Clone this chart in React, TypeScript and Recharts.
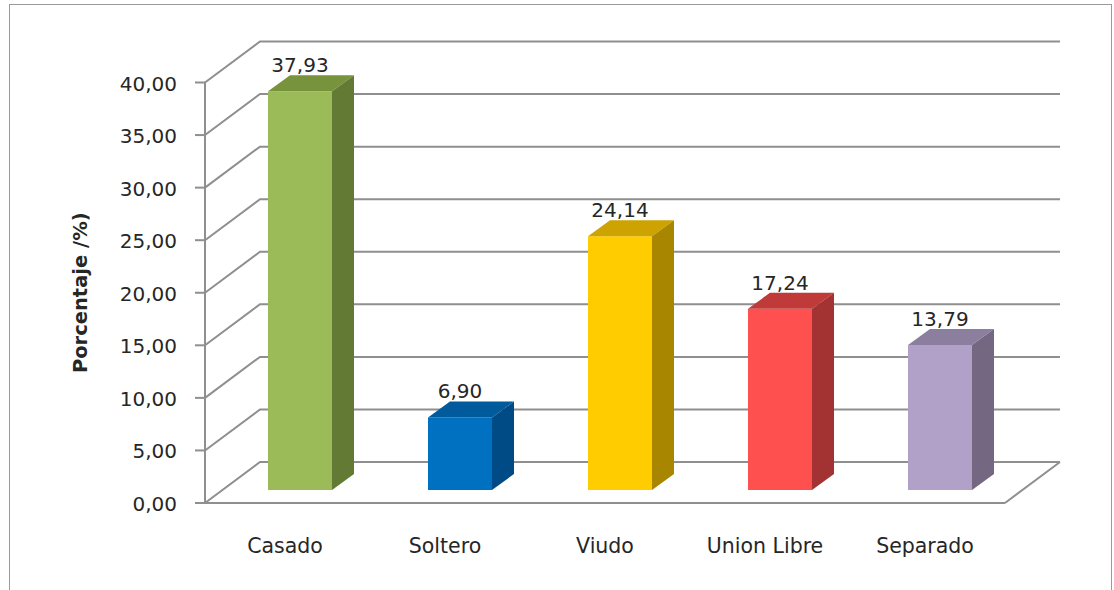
import React from 'react';
import { BarChart, Bar, XAxis, YAxis, CartesianGrid } from 'recharts';

const categories = ['Casado', 'Soltero', 'Viudo', 'Union Libre', 'Separado'];
const percentages = [37.93, 6.9, 24.14, 17.24, 13.79];
const yTicks = [0, 5, 10, 15, 20, 25, 30, 35, 40];
const frontColors = ['#9BBB59', '#0070C0', '#FFCC00', '#FF5050', '#B1A0C7'];
const topColors = ['#77933C', '#005A9C', '#CCA300', '#C03A3A', '#8C7E9F'];
const sideColors = ['#637A34', '#004B85', '#A88600', '#A33232', '#746782'];

const data = categories.map((name, i) => ({ name, value: percentages[i], idx: i }));

const fmt = (v: number) => v.toFixed(2).replace('.', ',');

const WALL_DX = 55;
const WALL_DY = 41;
const BAR_SHIFT_X = 15;
const BAR_SHIFT_Y = 13;
const BAR_DX = 22;
const BAR_DY = 16;
const GRID = '#8f8f8f';
const FONT = 'DejaVu Sans';

const gridLine = (props: any) => {
  const { x1, y1, x2, y, height, index } = props;
  const isFloor = Math.abs(y1 - (y + height)) < 1;
  return (
    <g key={`gl-${index}`}>
      <polyline
        points={`${x1},${y1} ${x1 + WALL_DX},${y1 - WALL_DY} ${x2 + WALL_DX},${y1 - WALL_DY}`}
        fill="none"
        stroke={GRID}
        strokeWidth={2}
      />
      {isFloor && (
        <line x1={x2} y1={y1} x2={x2 + WALL_DX} y2={y1 - WALL_DY} stroke={GRID} strokeWidth={2} />
      )}
    </g>
  );
};

const Bar3D = (props: any) => {
  const { x, y, width, height, payload, value } = props;
  const i = payload.idx;
  const fx = x + BAR_SHIFT_X;
  const fy = y - BAR_SHIFT_Y;
  const fb = y + height - BAR_SHIFT_Y;
  const w = width;
  const v = Array.isArray(value) ? value[1] : value;
  return (
    <g>
      <rect x={fx} y={fy} width={w} height={fb - fy} fill={frontColors[i]} />
      <polygon
        points={`${fx},${fy} ${fx + BAR_DX},${fy - BAR_DY} ${fx + w + BAR_DX},${fy - BAR_DY} ${fx + w},${fy}`}
        fill={topColors[i]}
      />
      <polygon
        points={`${fx + w},${fy} ${fx + w + BAR_DX},${fy - BAR_DY} ${fx + w + BAR_DX},${fb - BAR_DY} ${fx + w},${fb}`}
        fill={sideColors[i]}
      />
      <text
        x={fx + w / 2}
        y={fy - BAR_DY - 3}
        textAnchor="middle"
        fontFamily={FONT}
        fontSize={20}
        fill="#262626"
      >
        {fmt(v)}
      </text>
    </g>
  );
};

const YTick = (props: any) => {
  const { x, y, payload } = props;
  return (
    <text x={x} y={y + 8} textAnchor="end" fontFamily={FONT} fontSize={20} fill="#262626">
      {fmt(payload.value)}
    </text>
  );
};

const XTick = (props: any) => {
  const { x, y, payload } = props;
  return (
    <text x={x} y={y + 50} textAnchor="middle" fontFamily={FONT} fontSize={20.5} fill="#262626">
      {payload.value}
    </text>
  );
};

const YLabel = (props: any) => {
  const vb = props.viewBox || {};
  const cx = vb.x + 20;
  const cy = vb.y + vb.height / 2;
  return (
    <text
      x={cx}
      y={cy}
      transform={`rotate(-90 ${cx} ${cy})`}
      textAnchor="middle"
      dominantBaseline="central"
      fontFamily={FONT}
      fontWeight="bold"
      fontSize={19.5}
      fill="#262626"
    >
      Porcentaje /%)
    </text>
  );
};

export default function App() {
  return (
    <div
      style={{
        position: 'absolute',
        left: 0,
        top: 0,
        width: 1114,
        height: 590,
        overflow: 'hidden',
        background: '#ffffff',
      }}
    >
      <div
        style={{
          position: 'absolute',
          left: 9,
          top: 4,
          width: 1101,
          height: 640,
          border: '1.5px solid #9a9a9a',
        }}
      />
      <div style={{ position: 'absolute', left: 0, top: 0 }}>
        <BarChart
          width={1114}
          height={590}
          data={data}
          margin={{ top: 82.5, right: 109, bottom: 27, left: 60 }}
          barCategoryGap="30%"
        >
          <CartesianGrid horizontal={gridLine} vertical={false} />
          <XAxis
            dataKey="name"
            height={60}
            tickLine={false}
            tickSize={0}
            tickMargin={0}
            axisLine={{ stroke: GRID, strokeWidth: 2 }}
            tick={<XTick />}
            interval={0}
          />
          <YAxis
            width={145}
            domain={[0, 40]}
            ticks={yTicks}
            interval={0}
            tickSize={10}
            tickMargin={18}
            tickLine={{ stroke: GRID, strokeWidth: 2 }}
            axisLine={{ stroke: GRID, strokeWidth: 2 }}
            tick={<YTick />}
            label={<YLabel />}
          />
          <Bar dataKey="value" shape={<Bar3D />} isAnimationActive={false} />
        </BarChart>
      </div>
    </div>
  );
}
